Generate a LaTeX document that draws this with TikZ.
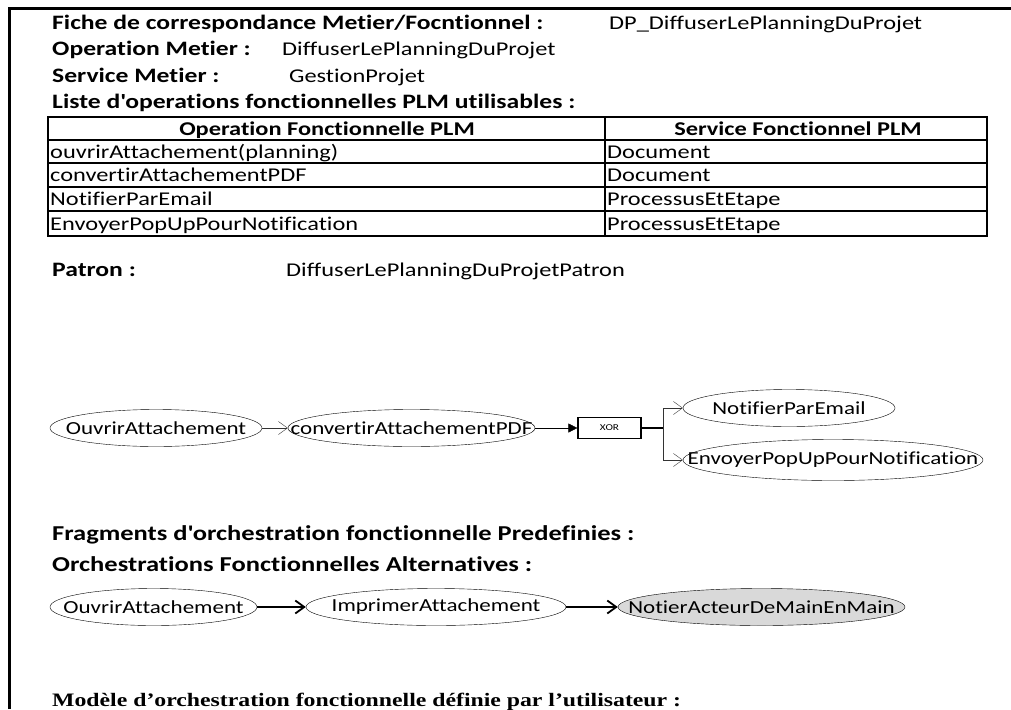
\documentclass[tikz,border=0pt]{standalone}
\usepackage{fontspec}
\setmainfont{Carlito}[Ligatures={NoCommon,TeXOff}, FakeStretch=1.25]
\newfontfamily\timesfont{Liberation Serif}[FakeStretch=1.25]
\usetikzlibrary{arrows.meta,positioning,shapes.geometric}

\begin{document}
\begin{tikzpicture}[x=1pt,y=-1pt,
    head/.style={anchor=base west, inner sep=0pt, font=\bfseries\fontsize{20.5}{24}\selectfont},
    val/.style={anchor=base west, inner sep=0pt, font=\fontsize{19.5}{23}\selectfont},
    cell/.style={anchor=base west, inner sep=0pt, font=\fontsize{19.5}{23}\selectfont},
    cellhead/.style={anchor=base, inner sep=0pt, font=\bfseries\fontsize{19.5}{23}\selectfont},
    op/.style={draw, ellipse, inner xsep=-60pt, inner ysep=0pt, minimum height=37pt, font=\fontsize{18.4}{22}\selectfont},
    opg/.style={op, fill=black!15},
    gate/.style={draw, line width=1.2pt, inner sep=0pt, minimum width=63pt, minimum height=21pt, font=\fontsize{9}{10}\selectfont},
    arr/.style={-{Straight Barb[length=9pt,width=13pt]}, black!80},
    arrb/.style={-{Straight Barb[length=9pt,width=13pt]}, line width=1.8pt},
    arrf/.style={-{Triangle[length=9pt,width=9pt]}}
  ]
    \useasboundingbox (0,0) rectangle (1011,709);
    % frame
    \draw[line width=3pt] (9,709) -- (9,9) -- (1011,9);

    % header lines
    \node[head] (fiche) at (52,30) {Fiche de correspondance Metier/Focntionnel :};
    \node[val] (ficheval) at (609,30) {DP\_DiffuserLePlanningDuProjet};
    \node[head] (opmet) at (52,56) {Operation Metier :};
    \node[val] (opmetval) at (282,56) {DiffuserLePlanningDuProjet};
    \node[head] (srvmet) at (52,82) {Service Metier :};
    \node[val] (srvmetval) at (289,82) {GestionProjet};
    \node[head] (liste) at (52,108) {Liste d'operations fonctionnelles PLM utilisables :};

    % table
    \draw[line width=1.2pt] (48,117) rectangle (987,236);
    \draw[line width=1.2pt] (605,117) -- (605,236);
    \foreach \y in {140,163,187,211}
      \draw[line width=1.2pt] (48,\y) -- (987,\y);
    \node[cellhead] (th1) at (327,135) {Operation Fonctionnelle PLM};
    \node[cellhead] (th2) at (798,135) {Service Fonctionnel PLM};
    \node[cell] (r1a) at (50,158) {ouvrirAttachement(planning)};
    \node[cell] (r1b) at (607,158) {Document};
    \node[cell] (r2a) at (50,181) {convertirAttachementPDF};
    \node[cell] (r2b) at (607,181) {Document};
    \node[cell] (r3a) at (50,205) {NotifierParEmail};
    \node[cell] (r3b) at (607,205) {ProcessusEtEtape};
    \node[cell] (r4a) at (50,230) {EnvoyerPopUpPourNotification};
    \node[cell] (r4b) at (607,230) {ProcessusEtEtape};

    % patron
    \node[head] (patron) at (52,276) {Patron :};
    \node[val] (patronval) at (286,276) {DiffuserLePlanningDuProjetPatron};

    \node[op, minimum width=212pt] (ouvrir) at (156,428) {OuvrirAttachement};
    \node[op, minimum width=247pt] (convert) at (411.5,428) {convertirAttachementPDF};
    \node[gate] (xor) at (609.5,428) {XOR};
    \coordinate (split) at (663,428);
    \node[op, minimum width=212pt] (notif) at (789,408) {NotifierParEmail};
    \node[op, minimum width=300pt, minimum height=41pt] (popup) at (833,460) {EnvoyerPopUpPourNotification};

    \draw[arr] (ouvrir) -- (convert);
    \draw[arrf] (convert) -- (xor);
    \draw[line width=1.6pt] (xor) -- (split);
    \draw[arr] (split) |- (notif.west);
    \draw[arr] (split) |- (popup.west);

    % fragments
    \node[head, font=\bfseries\fontsize{21.2}{25}\selectfont] (frag) at (52,540) {Fragments d'orchestration fonctionnelle Predefinies :};
    \node[head, font=\bfseries\fontsize{21.2}{25}\selectfont] (alt) at (52,571) {Orchestrations Fonctionnelles Alternatives :};

    \node[op, minimum width=207pt] (ouvrirb) at (153.5,607) {OuvrirAttachement};
    \node[op, minimum width=260pt] (imprimer) at (436,607) {ImprimerAttachement};
    \node[opg, minimum width=287pt] (notier) at (761.5,607) {NotierActeurDeMainEnMain};

    \draw[arrb] (ouvrirb) -- (imprimer);
    \draw[arrb] (imprimer) -- (notier);

    \node[anchor=base west, inner sep=0pt, font=\timesfont\bfseries\fontsize{19}{22}\selectfont] (modele) at (52,706) {Modèle d’orchestration fonctionnelle définie par l’utilisateur :};
  \end{tikzpicture}
\end{document}
